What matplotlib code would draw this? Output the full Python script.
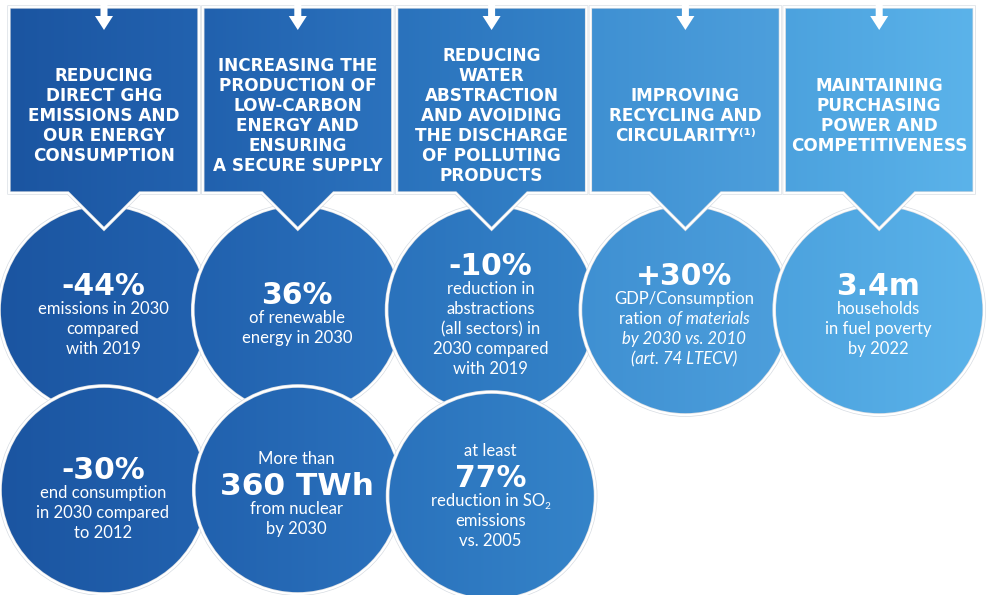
import numpy as np
import matplotlib.pyplot as plt
from matplotlib.patches import Polygon, Circle

# Textos do infográfico
titulos = [
    "REDUCING\nDIRECT GHG\nEMISSIONS AND\nOUR ENERGY\nCONSUMPTION",
    "INCREASING THE\nPRODUCTION OF\nLOW-CARBON\nENERGY AND\nENSURING\nA SECURE SUPPLY",
    "REDUCING\nWATER\nABSTRACTION\nAND AVOIDING\nTHE DISCHARGE\nOF POLLUTING\nPRODUCTS",
    "IMPROVING\nRECYCLING AND\nCIRCULARITY\u207d\u00b9\u207e",
    "MAINTAINING\nPURCHASING\nPOWER AND\nCOMPETITIVENESS",
]

# Círculos de cima: valor principal e descrição
valores_cima = ["-44%", "36%", "-10%", "+30%", "3.4m"]
textos_cima = [
    ["emissions in 2030", "compared", "with 2019"],
    ["of renewable", "energy in 2030"],
    ["reduction in", "abstractions", "(all sectors) in", "2030 compared", "with 2019"],
    ["GDP/Consumption", "ration |of materials", "|by 2030 vs. 2010", "|(art. 74 LTECV)"],
    ["households", "in fuel poverty", "by 2022"],
]

# Círculos de baixo (só as três primeiras colunas)
prefixos_baixo = ["", "More than", "at least"]
valores_baixo = ["-30%", "360 TWh", "77%"]
textos_baixo = [
    ["end consumption", "in 2030 compared", "to 2012"],
    ["from nuclear", "by 2030"],
    ["reduction in SO_2", "emissions", "vs. 2005"],
]

# Cores (esquerda -> direita) de cada coluna
cores_esq = ["#1b55a1", "#2161ae", "#2a72bc", "#3f90d2", "#4ca2de"]
cores_dir = ["#2262af", "#2b72bd", "#3584c9", "#4d9fdc", "#5bb3ea"]

W, H = 987, 595
fig = plt.figure(figsize=(W / 100, H / 100), dpi=100)
ax = fig.add_axes([0, 0, 1, 1])
ax.set_xlim(0, W)
ax.set_ylim(H, 0)
ax.axis("off")

centros = [104 + 193.8 * i for i in range(5)]
larg = 190
topo, base, ponta = 7, 193, 229
r_cima, cy_cima = 105, 310
r_baixo, cy_baixo = 104, [490, 490, 496]

FONTE_TIT = ["DejaVu Sans"]
FONTE = ["Lato", "DejaVu Sans"]


def hex2rgb(h):
    h = h.lstrip("#")
    return np.array([int(h[i:i + 2], 16) / 255 for i in (0, 2, 4)])


def gradiente(i):
    c0, c1 = hex2rgb(cores_esq[i]), hex2rgb(cores_dir[i])
    t = np.linspace(0, 1, 64)[None, :, None]
    img = c0 + (c1 - c0) * t
    return np.repeat(img, 8, axis=0)


def forma(patch, i, x0, x1, y0, y1, z):
    patch.set_facecolor("none")
    patch.set_edgecolor("none")
    ax.add_patch(patch)
    im = ax.imshow(gradiente(i), extent=(x0, x1, y1, y0),
                   aspect="auto", zorder=z, interpolation="bilinear")
    im.set_clip_path(patch)


def contorno(args, kind, z):
    if kind == "circ":
        c, r = args
        ax.add_patch(Circle(c, r, fc="none", ec="#d8dde3", lw=2.6, zorder=z + 0.1))
        ax.add_patch(Circle(c, r, fc="none", ec="white", lw=1.6, zorder=z + 0.2))
    else:
        ax.add_patch(Polygon(args, closed=True, fc="none", ec="#d8dde3", lw=2.4, zorder=z + 0.1))
        ax.add_patch(Polygon(args, closed=True, fc="none", ec="white", lw=1.4, zorder=z + 0.2))


renderer = fig.canvas.get_renderer()


def linha(cx, y, texto, size, z):
    # y = linha de base; "|" troca para itálico; "_2" vira subscrito
    partes = []
    if "|" in texto:
        a, b = texto.split("|")
        if a:
            partes.append((a, "normal", size, 0, 1))
        partes.append((b, "italic", size, 0, 1))
    elif "_2" in texto:
        partes.append((texto.replace("_2", ""), "normal", size, 0, -0.5))
        partes.append(("2", "normal", size * 0.6, 3, 0))
    else:
        partes.append((texto, "normal", size, 0, 0))
    objs = []
    for t, st, s, dy, gap in partes:
        o = ax.text(0, y + dy, t, fontsize=s, style=st, color="white",
                    family=FONTE, ha="left", va="baseline", zorder=z)
        objs.append((o, gap))
    larguras = [o.get_window_extent(renderer).width for o, g in objs]
    total = sum(larguras) + sum(g for o, g in objs[:-1])
    x = cx - total / 2
    for (o, g), w in zip(objs, larguras):
        o.set_x(x)
        x += w + g


# círculos de cima
for i in range(5):
    cx = centros[i]
    z = 2 + i * 0.5
    forma(Circle((cx, cy_cima), r_cima), i, cx - r_cima, cx + r_cima,
          cy_cima - r_cima, cy_cima + r_cima, z)
    contorno(((cx, cy_cima), r_cima), "circ", z)

# caixas com a ponta em V
for i in range(5):
    cx = centros[i]
    x0, x1 = cx - larg / 2, cx + larg / 2
    pts = [(x0, topo), (x1, topo), (x1, base), (cx + 36, base), (cx, ponta),
           (cx - 36, base), (x0, base)]
    forma(Polygon(pts, closed=True), i, x0, x1, topo, ponta, 6)
    contorno(pts, "poly", 6)
    # seta branca no topo
    seta = [(cx - 3.5, 0), (cx + 3.5, 0), (cx + 3.5, 16), (cx + 9, 16), (cx, 30),
            (cx - 9, 16), (cx - 3.5, 16)]
    ax.add_patch(Polygon(seta, closed=True, fc="white", ec="none", zorder=7))
    ax.text(cx, 116, titulos[i], fontsize=12.2, weight="bold", color="white",
            family=FONTE_TIT, ha="center", va="center", linespacing=1.15, zorder=8)

# círculos de baixo
for i in range(3):
    cx = centros[i]
    cy = cy_baixo[i]
    z = 9 + i * 0.5
    forma(Circle((cx, cy), r_baixo), i, cx - r_baixo, cx + r_baixo,
          cy - r_baixo, cy + r_baixo, z)
    contorno(((cx, cy), r_baixo), "circ", z)

# textos dos círculos de cima (y = linha de base do número)
y_valor_cima = [295, 304, 275, 285, 295]
for i in range(5):
    cx = centros[i] - 1
    y = y_valor_cima[i]
    ax.text(cx, y, valores_cima[i], fontsize=21.5, weight="bold", color="white",
            family=FONTE_TIT, ha="center", va="baseline", zorder=20)
    for k, t in enumerate(textos_cima[i]):
        linha(cx, y + 19 + 20 * k, t, 12, 20)

# textos dos círculos de baixo
y_valor_baixo = [479, 495, 487]
for i in range(3):
    cx = centros[i] - 1
    y = y_valor_baixo[i]
    if prefixos_baixo[i]:
        linha(cx, y - 31, prefixos_baixo[i], 12, 20)
    ax.text(cx, y, valores_baixo[i], fontsize=22.5 if i == 1 else 21.5, weight="bold",
            color="white", family=FONTE_TIT, ha="center", va="baseline", zorder=20)
    for k, t in enumerate(textos_baixo[i]):
        linha(cx, y + 19 + 20 * k, t, 12, 20)

fig.savefig("out.png", dpi=100)
